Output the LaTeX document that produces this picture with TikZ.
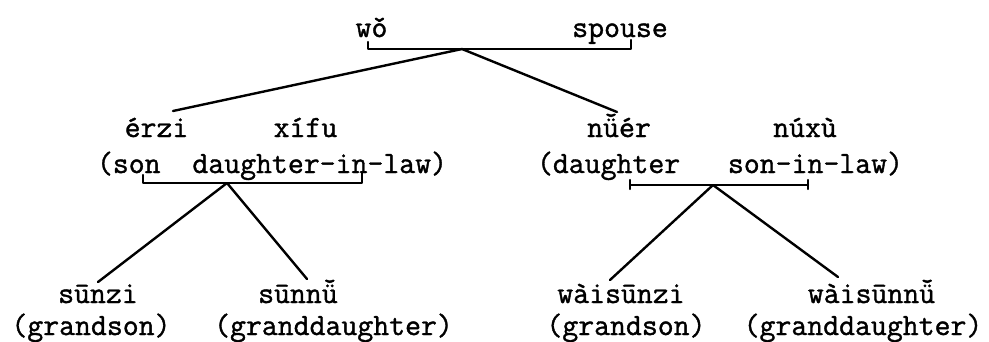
\documentclass[tikz,border=0pt]{standalone}
\usepackage{fontspec}
\newfontfamily\typew{Latin Modern Mono}[FakeBold=1.2]
\begin{document}
\begin{tikzpicture}[x=1pt,y=-1pt,
  lbl/.style={anchor=base,inner sep=0pt,font=\typew\fontsize{30.9}{34}\selectfont},
  link/.style={line width=2.4pt,line cap=round,line join=round}]
\useasboundingbox (0,0) rectangle (989,341);
% top generation
\node[lbl] (wo) at (371.5,37) {wǒ};
\node[lbl] (spouse) at (620,37) {spouse};
\coordinate (tl) at (368,42);
\coordinate (tr) at (631,40);
\coordinate (top) at (462,49);
\draw[link] (tl) -- (368,49) -- (631,49) -- (tr);
% second generation
\node[lbl] (erzi) at (156.5,137) {érzi};
\node[lbl] (xifu) at (305.5,137) {xífu};
\node[lbl] (sonline) at (272,173) {(son~~daughter-in-law)};
\node[lbl] (nuer) at (619,137) {nǚér};
\node[lbl] (nuxu) at (805,137) {núxù};
\node[lbl] (dauline) at (720,173) {(daughter~~~son-in-law)};
\coordinate (erziend) at (173,111);
\coordinate (nuerend) at (617,112);
\draw[link] (top) -- (erziend);
\draw[link] (top) -- (nuerend);
% left bracket
\coordinate (lbl1) at (143,175);
\coordinate (lbr1) at (362,173);
\coordinate (lapex) at (227,183);
\draw[link] (lbl1) -- (143,183) -- (362,183) -- (lbr1);
% right bracket
\coordinate (rl) at (630,185);
\coordinate (rr) at (808,185);
\coordinate (rapex) at (713,185);
\draw[link] (rl) -- (rr);
\draw[link] (630,180) -- (630,189);
\draw[link] (808,180) -- (808,189);
% third generation
\node[lbl] (sunzi) at (98,303) {sūnzi};
\node[lbl] (gs1) at (91,335) {(grandson)};
\node[lbl] (sunnu) at (298,303) {sūnnǚ};
\node[lbl] (gd1) at (333.5,335) {(granddaughter)};
\node[lbl] (waisunzi) at (621,303) {wàisūnzi};
\node[lbl] (gs2) at (626,335) {(grandson)};
\node[lbl] (waisunnu) at (871.5,303) {wàisūnnǚ};
\node[lbl] (gd2) at (863,335) {(granddaughter)};
\coordinate (sunziend) at (98,282);
\coordinate (sunnuend) at (307,279);
\coordinate (waisunziend) at (610,280);
\coordinate (waisunnuend) at (838,277);
\draw[link] (lapex) -- (sunziend);
\draw[link] (lapex) -- (sunnuend);
\draw[link] (rapex) -- (waisunziend);
\draw[link] (rapex) -- (waisunnuend);
\end{tikzpicture}
\end{document}
